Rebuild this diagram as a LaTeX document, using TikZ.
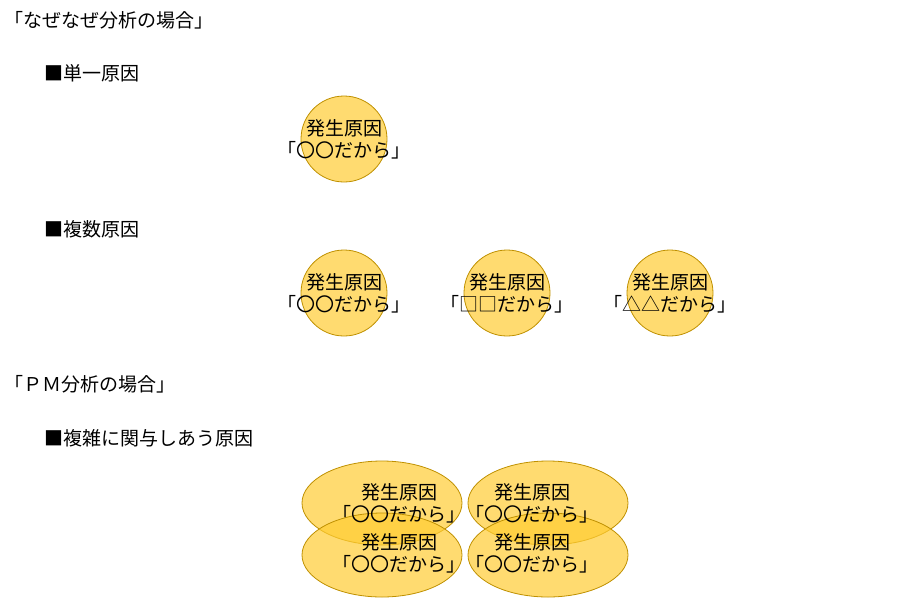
\documentclass[tikz,border=0pt]{standalone}
\usepackage{fontspec}
\setmainfont{Noto Sans CJK JP}
\begin{document}
\begin{tikzpicture}[x=1pt,y=-1pt,
  blob/.style={fill={rgb,255:red,255;green,204;blue,51},fill opacity=0.7,draw={rgb,255:red,191;green,144;blue,0},line width=0.8pt},
  lbl/.style={font=\fontsize{19}{22}\selectfont,inner sep=0pt,align=center},
  head/.style={font=\fontsize{19}{22}\selectfont,inner sep=0pt,anchor=west}]
\useasboundingbox (0,0) rectangle (910,606);
\node[head] (h1) at (4,20) {「なぜなぜ分析の場合」};
\node[head] (h2) at (44,73) {■単一原因};
\node[head] (h3) at (44,229) {■複数原因};
\node[head] (h4) at (4,384) {「ＰＭ分析の場合」};
\node[head] (h5) at (44,438) {■複雑に関与しあう原因};
\draw[blob] (344,139) circle (43);
\node[lbl] (c1) at (344,139) {発生原因\\「〇〇だから」};
\draw[blob] (344,293) circle (43);
\node[lbl] (c2) at (344,293) {発生原因\\「〇〇だから」};
\draw[blob] (507,293) circle (43);
\node[lbl] (c3) at (507,293) {発生原因\\「□□だから」};
\draw[blob] (670,293) circle (43);
\node[lbl] (c4) at (670,293) {発生原因\\「△△だから」};
\draw[blob] (382,503) ellipse (80 and 42);
\draw[blob] (548,503) ellipse (80 and 42);
\draw[blob] (382,555) ellipse (80 and 42);
\draw[blob] (548,555) ellipse (80 and 42);
\node[lbl] (e1) at (399,503) {発生原因\\「〇〇だから」};
\node[lbl] (e2) at (532,503) {発生原因\\「〇〇だから」};
\node[lbl] (e3) at (399,553) {発生原因\\「〇〇だから」};
\node[lbl] (e4) at (532,553) {発生原因\\「〇〇だから」};
\end{tikzpicture}
\end{document}
